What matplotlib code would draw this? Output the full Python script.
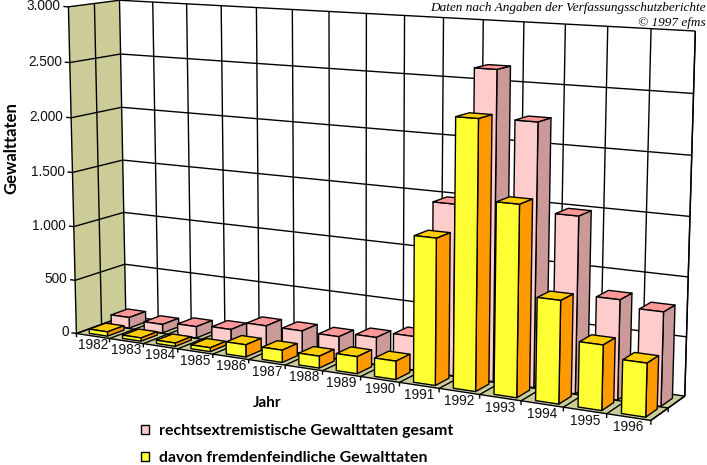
# Gewalttaten 1982-1996, 3D-Säulen mit fester Kamera
import numpy as np
import matplotlib
matplotlib.use("Agg")
import matplotlib.pyplot as plt
from matplotlib.patches import Patch
from mpl_toolkits.mplot3d import proj3d
from mpl_toolkits.mplot3d.art3d import Line3DCollection, Poly3DCollection

W, H = 707, 465

jahre = [1982, 1983, 1984, 1985, 1986, 1987, 1988, 1989, 1990, 1991, 1992, 1993, 1994, 1995, 1996]
gesamt = [100, 80, 105, 125, 205, 205, 200, 240, 295, 1483, 2639, 2232, 1489, 837, 781]
fremdenfeindlich = [40, 30, 30, 35, 110, 110, 105, 150, 160, 1255, 2277, 1609, 860, 540, 441]
y_ticks = [0, 500, 1000, 1500, 2000, 2500, 3000]
y_labels = ["0", "500", "1.000", "1.500", "2.000", "2.500", "3.000"]

# Kamera: (jahr-index, tiefe, wert) -> Pixel im Bild
welt = np.array([
    (0, 0, 0), (0, 0, 3000), (0, 1, 0), (0, 1, 3000), (15, 1, 0), (15, 1, 3000), (15, 0, 0),
    (1, 0, 0), (14, 0, 0), (14, 1, 3000), (1, 1, 3000), (7, 1, 3000), (10, 1, 3000), (15, 1, 1500),
], dtype=float)
pixel = np.array([
    (76, 334), (68.5, 6), (125.7, 313), (119.5, 0.7), (685, 398), (695, 30.5), (650.7, 419),
    (110, 341), (606.7, 412.7), (651.7, 28), (153, 2), (366, 13.7), (483, 20.7), (690, 217),
])


def fit_camera():
    # lineare Schätzung der 3x4-Matrix, letzter Eintrag = 1
    s = np.array([1, 1, 1 / 3000.0])
    A, b = [], []
    for (X, Y, Z), (u, v) in zip(welt * s, pixel):
        A.append([X, Y, Z, 1, 0, 0, 0, 0, -u * X, -u * Y, -u * Z])
        A.append([0, 0, 0, 0, X, Y, Z, 1, -v * X, -v * Y, -v * Z])
        b += [u, v]
    p = np.linalg.lstsq(np.array(A), np.array(b), rcond=None)[0]
    P = np.append(p, 1).reshape(3, 4)
    P[:, 2] /= 3000.0
    return P


P = fit_camera()

fig = plt.figure(figsize=(W / 100, H / 100), dpi=100)
ax = fig.add_subplot(projection="3d")
ax.set_position([0, 0, 1, 1])
ax.set_axis_off()
ax.computed_zorder = False


def feste_kamera():
    vl = ax.viewLim
    w = P[2]
    return np.array([
        vl.x0 * w + vl.width / W * P[0],
        (vl.y0 + vl.height) * w - vl.height / H * P[1],
        w - np.array([0, 0, 0, 1.0]),
        w,
    ])


ax.get_proj = feste_kamera
ax.apply_aspect = lambda position=None: None

oliv = "#CCCC99"
lw = 1.0
n = len(jahre)
z_top = y_ticks[-1]

# Wände und Boden
ax.add_collection3d(Poly3DCollection([[(0, 0, 0), (0, 1, 0), (0, 1, z_top), (0, 0, z_top)]],
                                     facecolors=oliv, edgecolors="none", zorder=0))
ax.add_collection3d(Poly3DCollection([[(0, 0, 0), (n, 0, 0), (n, 1, 0), (0, 1, 0)]],
                                     facecolors=oliv, edgecolors="none", zorder=0))

# Gitter
gitter = []
for z in y_ticks:
    gitter.append([(-0.15, 0, z), (0, 0, z), (0, 1, z), (n, 1, z)])
for i in range(n + 1):
    gitter.append([(i, 0, -35), (i, 0, 0), (i, 1, 0), (i, 1, z_top)])
gitter.append([(0, 0.5, z_top), (0, 0.5, 0), (n, 0.5, 0), (n, 0.5, -35)])
gitter.append([(0, 0, z_top), (0, 0, 0), (n, 0, 0), (n, 1, 0), (n, 1, z_top)])
ax.add_collection3d(Line3DCollection(gitter, colors="k", linewidths=lw, zorder=1), autolim=False)


def saeulen(werte, tiefe0, tiefe1, vorn, seite, oben, start):
    # Reihenfolge bar3d: -z, +z, -y, +y, -x, +x; verdeckte Flächen bleiben unsichtbar
    leer = (0, 0, 0, 0)
    flaechen = [leer, oben, vorn, leer, leer, seite]
    kanten = [leer, "k", "k", leer, leer, "k"]
    for i, wert in enumerate(werte):
        ax.bar3d(i + 0.27, tiefe0, 0, 0.55, tiefe1 - tiefe0, wert, color=flaechen,
                 edgecolor=kanten, linewidth=lw, shade=False, zorder=start + i)


saeulen(gesamt, 0.52, 0.86, "#FFCCCC", "#CC9999", "#FF9999", 10)
saeulen(fremdenfeindlich, 0.08, 0.41, "#FFFF33", "#FF9900", "#FFCC00", 40)


def text_3d(x, y, z, s, **kw):
    # Position über die Kamera, Text selbst bleibt 2D
    px, py, _ = proj3d.proj_transform(x, y, z, feste_kamera())
    ax.text2D(px, py, s, transform=ax.transData, zorder=60, **kw)


# Beschriftung
tick_font = dict(family="Liberation Sans", fontsize=9.8, color="#111111")
for wert, text in zip(y_ticks, y_labels):
    text_3d(-0.24, 0, wert, text, ha="right", va="center", **tick_font)
for i, jahr in enumerate(jahre):
    text_3d(i + 0.5, 0, -85, str(jahr), ha="center", va="center", **tick_font)

fig.text(11 / W, 1 - 148 / H, "Gewalttaten", rotation=90, ha="center", va="center",
         family="Lato", fontweight="bold", fontsize=12)
fig.text(267.5 / W, 1 - 403 / H, "Jahr", ha="center", va="center",
         family="Lato", fontweight="bold", fontsize=11)
fig.text(706 / W, 1 - 7.5 / H, "Daten nach Angaben der Verfassungsschutzberichte", ha="right", va="center",
         family="Liberation Serif", style="italic", fontsize=9.55)
fig.text(706 / W, 1 - 23 / H, "© 1997 efms", ha="right", va="center",
         family="Liberation Serif", style="italic", fontsize=9.55)

griffe = [
    Patch(facecolor="#FFCCCC", edgecolor="k", lw=1, label="rechtsextremistische Gewalttaten gesamt"),
    Patch(facecolor="#FFFF33", edgecolor="k", lw=1, label="davon fremdenfeindliche Gewalttaten"),
]
fig.legend(handles=griffe, loc="lower left", bbox_to_anchor=(136 / W, 1 - 470 / H), frameon=False,
           prop=dict(family="Lato", weight="bold", size=11.4), handlelength=0.5, handleheight=0.5,
           handletextpad=0.65, labelspacing=0.85, borderpad=0.3, borderaxespad=0)

fig.savefig("out.png", dpi=100)
